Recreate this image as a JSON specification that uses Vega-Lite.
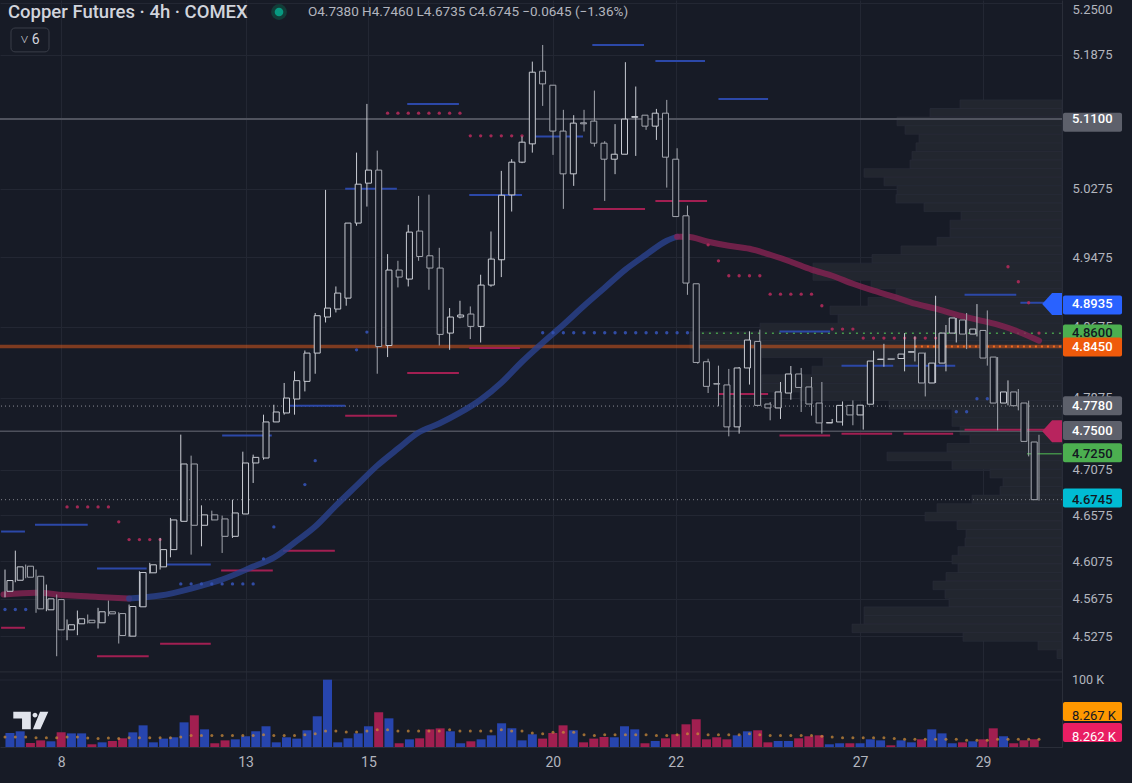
{
  "$schema": "https://vega.github.io/schema/vega-lite/v6.json",
  "width": 1062,
  "height": 747,
  "padding": 0,
  "autosize": {"type": "pad"},
  "background": "#171b26",
  "config": {"view": {"stroke": null}, "font": "Roboto"},
  "datasets": {
    "bars": [
      {"i":0,"o":4.5754,"h":4.5987,"l":4.5689,"c":4.5869,"v":15.0,"m":10.7},
      {"i":1,"o":4.5872,"h":4.6191,"l":4.5851,"c":4.6016,"v":16.8,"m":10.7},
      {"i":2,"o":4.6023,"h":4.6041,"l":4.5894,"c":4.5905,"v":4.3,"m":10.7},
      {"i":3,"o":4.5915,"h":4.5987,"l":4.5524,"c":4.5566,"v":7.1,"m":10.0},
      {"i":4,"o":4.5556,"h":4.5826,"l":4.5541,"c":4.5673,"v":6.1,"m":10.0},
      {"i":5,"o":4.5665,"h":4.5719,"l":4.5064,"c":4.5343,"v":15.7,"m":10.0},
      {"i":6,"o":4.5343,"h":4.5453,"l":4.5233,"c":4.5397,"v":14.6,"m":10.7},
      {"i":7,"o":4.5407,"h":4.5548,"l":4.5286,"c":4.5460,"v":14.6,"m":10.7},
      {"i":8,"o":4.5445,"h":4.5506,"l":4.5410,"c":4.5418,"v":2.9,"m":9.7},
      {"i":9,"o":4.5418,"h":4.5577,"l":4.5357,"c":4.5535,"v":5.0,"m":9.0},
      {"i":10,"o":4.5535,"h":4.5654,"l":4.5488,"c":4.5513,"v":6.4,"m":9.7},
      {"i":11,"o":4.5516,"h":4.5530,"l":4.5198,"c":4.5283,"v":9.3,"m":9.0},
      {"i":12,"o":4.5276,"h":4.5612,"l":4.5270,"c":4.5591,"v":15.7,"m":10.0},
      {"i":13,"o":4.5588,"h":4.5969,"l":4.5588,"c":4.5955,"v":23.2,"m":10.0},
      {"i":14,"o":4.5952,"h":4.6059,"l":4.5944,"c":4.6038,"v":5.0,"m":10.0},
      {"i":15,"o":4.6016,"h":4.6329,"l":4.5987,"c":4.6202,"v":9.0,"m":10.0},
      {"i":16,"o":4.6202,"h":4.6546,"l":4.6119,"c":4.6524,"v":10.4,"m":10.0},
      {"i":17,"o":4.6509,"h":4.7462,"l":4.6509,"c":4.7137,"v":26.4,"m":10.7},
      {"i":18,"o":4.7137,"h":4.7229,"l":4.6148,"c":4.6466,"v":33.9,"m":12.2},
      {"i":19,"o":4.6466,"h":4.6683,"l":4.6238,"c":4.6579,"v":18.9,"m":12.2},
      {"i":20,"o":4.6579,"h":4.6625,"l":4.6519,"c":4.6524,"v":4.0,"m":12.2},
      {"i":21,"o":4.6535,"h":4.6571,"l":4.6166,"c":4.6346,"v":7.1,"m":12.2},
      {"i":22,"o":4.6346,"h":4.6745,"l":4.6329,"c":4.6600,"v":8.2,"m":12.2},
      {"i":23,"o":4.6589,"h":4.7273,"l":4.6589,"c":4.7148,"v":11.5,"m":12.2},
      {"i":24,"o":4.7148,"h":4.7240,"l":4.6928,"c":4.7210,"v":16.8,"m":12.2},
      {"i":25,"o":4.7203,"h":4.7684,"l":4.7185,"c":4.7603,"v":22.2,"m":13.2},
      {"i":26,"o":4.7603,"h":4.7795,"l":4.7603,"c":4.7714,"v":5.0,"m":12.2},
      {"i":27,"o":4.7703,"h":4.8039,"l":4.7684,"c":4.7870,"v":10.4,"m":12.2},
      {"i":28,"o":4.7859,"h":4.8170,"l":4.7684,"c":4.8065,"v":9.0,"m":12.2},
      {"i":29,"o":4.8057,"h":4.8405,"l":4.7944,"c":4.8376,"v":17.9,"m":13.2},
      {"i":30,"o":4.8376,"h":4.8832,"l":4.8143,"c":4.8801,"v":32.9,"m":14.3},
      {"i":31,"o":4.8786,"h":5.0259,"l":4.8724,"c":4.8888,"v":72.1,"m":17.2},
      {"i":32,"o":4.8877,"h":4.9136,"l":4.8838,"c":4.9060,"v":5.0,"m":17.2},
      {"i":33,"o":4.9002,"h":4.9870,"l":4.8915,"c":4.9870,"v":9.3,"m":16.1},
      {"i":34,"o":4.9870,"h":5.0699,"l":4.9839,"c":5.0326,"v":14.6,"m":16.1},
      {"i":35,"o":5.0338,"h":5.1280,"l":5.0063,"c":5.0492,"v":22.2,"m":17.2},
      {"i":36,"o":5.0492,"h":5.0723,"l":4.8143,"c":4.8451,"v":37.2,"m":18.6},
      {"i":37,"o":4.8462,"h":4.9509,"l":4.8331,"c":4.9325,"v":30.7,"m":18.6},
      {"i":38,"o":4.9325,"h":4.9432,"l":4.9125,"c":4.9244,"v":4.0,"m":17.2},
      {"i":39,"o":4.9221,"h":4.9850,"l":4.9136,"c":4.9765,"v":8.2,"m":17.2},
      {"i":40,"o":4.9777,"h":5.0188,"l":4.9432,"c":4.9482,"v":9.3,"m":17.2},
      {"i":41,"o":4.9490,"h":5.0203,"l":4.9098,"c":4.9348,"v":18.9,"m":17.2},
      {"i":42,"o":4.9348,"h":4.9582,"l":4.8462,"c":4.8588,"v":20.0,"m":17.2},
      {"i":43,"o":4.8603,"h":4.8888,"l":4.8413,"c":4.8786,"v":16.8,"m":18.6},
      {"i":44,"o":4.8786,"h":4.8972,"l":4.8770,"c":4.8809,"v":4.0,"m":17.2},
      {"i":45,"o":4.8820,"h":4.8907,"l":4.8535,"c":4.8679,"v":6.1,"m":17.2},
      {"i":46,"o":4.8679,"h":4.9271,"l":4.8496,"c":4.9152,"v":8.2,"m":17.2},
      {"i":47,"o":4.9152,"h":4.9772,"l":4.9133,"c":4.9452,"v":12.5,"m":17.2},
      {"i":48,"o":4.9444,"h":5.0483,"l":4.9244,"c":5.0196,"v":25.4,"m":18.6},
      {"i":49,"o":5.0200,"h":5.0621,"l":5.0005,"c":5.0586,"v":20.0,"m":17.2},
      {"i":50,"o":5.0586,"h":5.0890,"l":5.0574,"c":5.0823,"v":7.1,"m":17.2},
      {"i":51,"o":5.0803,"h":5.1790,"l":5.0699,"c":5.1662,"v":13.6,"m":15.0},
      {"i":52,"o":5.1674,"h":5.1992,"l":5.1256,"c":5.1521,"v":9.0,"m":14.3},
      {"i":53,"o":5.1505,"h":5.1505,"l":5.0672,"c":5.0955,"v":15.0,"m":15.7},
      {"i":54,"o":5.0955,"h":5.1209,"l":5.0036,"c":5.0448,"v":23.2,"m":15.7},
      {"i":55,"o":5.0448,"h":5.1145,"l":5.0306,"c":5.1050,"v":17.9,"m":15.7},
      {"i":56,"o":5.1054,"h":5.1209,"l":5.0950,"c":5.1042,"v":5.0,"m":13.2},
      {"i":57,"o":5.1074,"h":5.1440,"l":5.0770,"c":5.0811,"v":9.0,"m":12.2},
      {"i":58,"o":5.0811,"h":5.0835,"l":5.0129,"c":5.0621,"v":10.7,"m":13.2},
      {"i":59,"o":5.0621,"h":5.1038,"l":5.0444,"c":5.0680,"v":10.4,"m":13.2},
      {"i":60,"o":5.0680,"h":5.1783,"l":5.0680,"c":5.1098,"v":22.2,"m":13.2},
      {"i":61,"o":5.1119,"h":5.1489,"l":5.0660,"c":5.1129,"v":18.9,"m":13.2},
      {"i":62,"o":5.1145,"h":5.1145,"l":5.0970,"c":5.1014,"v":4.0,"m":13.2},
      {"i":63,"o":5.1014,"h":5.1220,"l":5.0850,"c":5.1169,"v":6.4,"m":12.2},
      {"i":64,"o":5.1169,"h":5.1328,"l":5.0286,"c":5.0645,"v":9.3,"m":12.2},
      {"i":65,"o":5.0621,"h":5.0751,"l":4.9946,"c":4.9946,"v":13.6,"m":13.2},
      {"i":66,"o":4.9955,"h":5.0075,"l":4.9040,"c":4.9175,"v":24.3,"m":14.3},
      {"i":67,"o":4.9167,"h":4.9167,"l":4.8256,"c":4.8270,"v":29.7,"m":14.3},
      {"i":68,"o":4.8278,"h":4.8312,"l":4.7926,"c":4.8001,"v":8.2,"m":13.2},
      {"i":69,"o":4.8032,"h":4.8234,"l":4.7777,"c":4.8026,"v":10.4,"m":13.2},
      {"i":70,"o":4.8017,"h":4.8197,"l":4.7443,"c":4.7548,"v":8.2,"m":13.2},
      {"i":71,"o":4.7548,"h":4.8219,"l":4.7473,"c":4.8208,"v":12.5,"m":13.2},
      {"i":72,"o":4.8208,"h":4.8623,"l":4.8021,"c":4.8524,"v":16.8,"m":14.3},
      {"i":73,"o":4.8508,"h":4.8642,"l":4.7788,"c":4.7788,"v":17.9,"m":13.2},
      {"i":74,"o":4.7803,"h":4.7825,"l":4.7621,"c":4.7759,"v":5.0,"m":12.2},
      {"i":75,"o":4.7759,"h":4.8050,"l":4.7636,"c":4.7938,"v":6.4,"m":12.2},
      {"i":76,"o":4.7926,"h":4.8230,"l":4.7851,"c":4.8140,"v":6.4,"m":12.2},
      {"i":77,"o":4.8140,"h":4.8208,"l":4.7714,"c":4.7989,"v":9.3,"m":12.2},
      {"i":78,"o":4.7994,"h":4.8106,"l":4.7673,"c":4.7803,"v":11.5,"m":12.2},
      {"i":79,"o":4.7814,"h":4.8050,"l":4.7473,"c":4.7592,"v":12.5,"m":11.5},
      {"i":80,"o":4.7592,"h":4.7636,"l":4.7590,"c":4.7595,"v":2.9,"m":10.7},
      {"i":81,"o":4.7603,"h":4.7832,"l":4.7562,"c":4.7788,"v":4.0,"m":10.0},
      {"i":82,"o":4.7788,"h":4.7843,"l":4.7566,"c":4.7681,"v":4.0,"m":10.0},
      {"i":83,"o":4.7681,"h":4.7790,"l":4.7518,"c":4.7790,"v":4.0,"m":10.0},
      {"i":84,"o":4.7801,"h":4.8404,"l":4.7801,"c":4.8286,"v":8.2,"m":10.0},
      {"i":85,"o":4.8303,"h":4.8481,"l":4.8222,"c":4.8308,"v":7.1,"m":10.0},
      {"i":86,"o":4.8311,"h":4.8317,"l":4.8301,"c":4.8305,"v":1.8,"m":9.0},
      {"i":87,"o":4.8315,"h":4.8603,"l":4.8170,"c":4.8365,"v":7.1,"m":8.27},
      {"i":88,"o":4.8387,"h":4.8565,"l":4.8281,"c":4.8391,"v":5.0,"m":8.27},
      {"i":89,"o":4.8376,"h":4.8383,"l":4.7888,"c":4.8039,"v":8.2,"m":8.27},
      {"i":90,"o":4.8039,"h":4.9029,"l":4.8039,"c":4.8263,"v":18.9,"m":8.27},
      {"i":91,"o":4.8263,"h":4.8695,"l":4.8170,"c":4.8603,"v":14.6,"m":8.27},
      {"i":92,"o":4.8603,"h":4.8775,"l":4.8496,"c":4.8775,"v":4.0,"m":8.27},
      {"i":93,"o":4.8752,"h":4.8832,"l":4.8421,"c":4.8592,"v":5.0,"m":7.2},
      {"i":94,"o":4.8592,"h":4.8934,"l":4.8565,"c":4.8649,"v":6.1,"m":7.2},
      {"i":95,"o":4.8633,"h":4.8861,"l":4.8234,"c":4.8320,"v":8.2,"m":7.2},
      {"i":96,"o":4.8331,"h":4.8331,"l":4.7510,"c":4.7814,"v":20.0,"m":8.27},
      {"i":97,"o":4.7814,"h":4.8068,"l":4.7788,"c":4.7938,"v":11.5,"m":8.27},
      {"i":98,"o":4.7938,"h":4.7971,"l":4.7732,"c":4.7784,"v":4.0,"m":8.27},
      {"i":99,"o":4.7814,"h":4.7840,"l":4.7221,"c":4.7387,"v":7.1,"m":8.27},
      {"i":100,"o":4.7380,"h":4.7460,"l":4.6735,"c":4.6745,"v":8.262,"m":8.267}
    ],
    "ma": [
      {"i":-0.15,"p":4.5719,"seg":1,"t":"down"},{"i":3,"p":4.5737,"seg":1,"t":"down"},{"i":6,"p":4.5711,"seg":1,"t":"down"},{"i":9,"p":4.5694,"seg":1,"t":"down"},{"i":12,"p":4.5676,"seg":1,"t":"down"},
      {"i":12,"p":4.5676,"seg":2,"t":"up"},{"i":15,"p":4.5708,"seg":2,"t":"up"},{"i":18,"p":4.5783,"seg":2,"t":"up"},{"i":21,"p":4.5880,"seg":2,"t":"up"},{"i":24,"p":4.6019,"seg":2,"t":"up"},{"i":26,"p":4.6116,"seg":2,"t":"up"},{"i":28,"p":4.6278,"seg":2,"t":"up"},{"i":30,"p":4.6452,"seg":2,"t":"up"},{"i":32,"p":4.6680,"seg":2,"t":"up"},{"i":34,"p":4.6899,"seg":2,"t":"up"},{"i":36,"p":4.7119,"seg":2,"t":"up"},{"i":38,"p":4.7306,"seg":2,"t":"up"},{"i":40,"p":4.7485,"seg":2,"t":"up"},{"i":42,"p":4.7585,"seg":2,"t":"up"},{"i":44,"p":4.7706,"seg":2,"t":"up"},{"i":46,"p":4.7851,"seg":2,"t":"up"},{"i":48,"p":4.8042,"seg":2,"t":"up"},{"i":50,"p":4.8278,"seg":2,"t":"up"},{"i":52,"p":4.8493,"seg":2,"t":"up"},{"i":54,"p":4.8698,"seg":2,"t":"up"},{"i":56,"p":4.8915,"seg":2,"t":"up"},{"i":58,"p":4.9122,"seg":2,"t":"up"},{"i":60,"p":4.9330,"seg":2,"t":"up"},{"i":62,"p":4.9502,"seg":2,"t":"up"},{"i":64,"p":4.9665,"seg":2,"t":"up"},{"i":65,"p":4.9711,"seg":2,"t":"up"},
      {"i":65,"p":4.9711,"seg":3,"t":"down"},{"i":66,"p":4.9711,"seg":3,"t":"down"},{"i":68,"p":4.9653,"seg":3,"t":"down"},{"i":70,"p":4.9606,"seg":3,"t":"down"},{"i":72,"p":4.9571,"seg":3,"t":"down"},{"i":74,"p":4.9502,"seg":3,"t":"down"},{"i":76,"p":4.9421,"seg":3,"t":"down"},{"i":78,"p":4.9330,"seg":3,"t":"down"},{"i":80,"p":4.9259,"seg":3,"t":"down"},{"i":82,"p":4.9167,"seg":3,"t":"down"},{"i":84,"p":4.9087,"seg":3,"t":"down"},{"i":86,"p":4.9017,"seg":3,"t":"down"},{"i":88,"p":4.8938,"seg":3,"t":"down"},{"i":90,"p":4.8881,"seg":3,"t":"down"},{"i":92,"p":4.8813,"seg":3,"t":"down"},{"i":94,"p":4.8756,"seg":3,"t":"down"},{"i":96,"p":4.8698,"seg":3,"t":"down"},{"i":98,"p":4.8619,"seg":3,"t":"down"},{"i":100,"p":4.8517,"seg":3,"t":"down"}
    ],
    "levels": [
      {"s":-0.38,"e":1.93,"p":4.6398,"k":"up"},{"s":2.9,"e":8.0,"p":4.6473,"k":"up"},{"s":8.9,"e":13.7,"p":4.5998,"k":"up"},{"s":15.0,"e":19.9,"p":4.6041,"k":"up"},{"s":21.0,"e":25.8,"p":4.7451,"k":"up"},{"s":26.9,"e":32.9,"p":4.7784,"k":"up"},{"s":32.9,"e":37.9,"p":5.0271,"k":"up"},{"s":38.9,"e":43.9,"p":5.1280,"k":"up"},{"s":44.9,"e":50.0,"p":5.0200,"k":"up"},{"s":50.8,"e":55.9,"p":5.0890,"k":"up"},{"s":56.8,"e":61.8,"p":5.1992,"k":"up"},{"s":62.9,"e":67.7,"p":5.1798,"k":"up"},{"s":69.0,"e":73.8,"p":5.1340,"k":"up"},{"s":74.9,"e":79.8,"p":4.8621,"k":"up"},{"s":80.9,"e":85.9,"p":4.8234,"k":"up"},{"s":87.0,"e":91.9,"p":4.8234,"k":"up"},{"s":92.8,"e":97.8,"p":4.9040,"k":"up"},{"s":98.2,"e":100.9,"p":4.8949,"k":"up"},
      {"s":-0.38,"e":1.93,"p":4.5365,"k":"dn"},{"s":8.9,"e":13.9,"p":4.5064,"k":"dn"},{"s":15.0,"e":19.9,"p":4.5195,"k":"dn"},{"s":20.9,"e":25.9,"p":4.5977,"k":"dn"},{"s":26.9,"e":31.9,"p":4.6191,"k":"dn"},{"s":32.9,"e":37.9,"p":4.7673,"k":"dn"},{"s":38.9,"e":43.9,"p":4.8151,"k":"dn"},{"s":44.9,"e":49.8,"p":4.8433,"k":"dn"},{"s":56.9,"e":61.9,"p":5.0036,"k":"dn"},{"s":62.9,"e":67.9,"p":5.0129,"k":"dn"},{"s":69.0,"e":73.8,"p":4.7915,"k":"dn"},{"s":74.9,"e":79.8,"p":4.7451,"k":"dn"},{"s":80.9,"e":85.8,"p":4.7473,"k":"dn"},{"s":86.9,"e":91.7,"p":4.7473,"k":"dn"},{"s":92.8,"e":101.1,"p":4.7517,"k":"dn"}
    ],
    "dots": [
      {"i":0,"p":4.5559,"k":"up"},{"i":1,"p":4.5559,"k":"up"},{"i":2,"p":4.5559,"k":"up"},
      {"i":6,"p":4.6666,"k":"dn"},{"i":7,"p":4.6666,"k":"dn"},{"i":8,"p":4.6666,"k":"dn"},{"i":9,"p":4.6666,"k":"dn"},{"i":10,"p":4.6666,"k":"dn"},
      {"i":11,"p":4.6503,"k":"dn"},
      {"i":12,"p":4.6311,"k":"dn"},{"i":13,"p":4.6311,"k":"dn"},{"i":14,"p":4.6311,"k":"dn"},{"i":15,"p":4.6311,"k":"dn"},
      {"i":17,"p":4.5833,"k":"up"},{"i":18,"p":4.5833,"k":"up"},{"i":19,"p":4.5833,"k":"up"},{"i":20,"p":4.5833,"k":"up"},{"i":21,"p":4.5833,"k":"up"},{"i":22,"p":4.5833,"k":"up"},{"i":23,"p":4.5833,"k":"up"},{"i":24,"p":4.5833,"k":"up"},
      {"i":25,"p":4.6102,"k":"up"},{"i":26,"p":4.6448,"k":"up"},{"i":29,"p":4.6910,"k":"up"},{"i":30,"p":4.7174,"k":"up"},{"i":34,"p":4.8413,"k":"up"},{"i":35,"p":4.8614,"k":"up"},
      {"i":37,"p":5.1169,"k":"dn"},{"i":38,"p":5.1169,"k":"dn"},{"i":39,"p":5.1169,"k":"dn"},{"i":40,"p":5.1169,"k":"dn"},{"i":41,"p":5.1169,"k":"dn"},{"i":42,"p":5.1169,"k":"dn"},{"i":43,"p":5.1169,"k":"dn"},{"i":44,"p":5.1169,"k":"dn"},
      {"i":45,"p":5.0899,"k":"dn"},{"i":46,"p":5.0899,"k":"dn"},{"i":47,"p":5.0899,"k":"dn"},{"i":48,"p":5.0899,"k":"dn"},{"i":49,"p":5.0899,"k":"dn"},{"i":50,"p":5.0899,"k":"dn"},
      {"i":52,"p":4.8607,"k":"up"},{"i":53,"p":4.8607,"k":"up"},{"i":54,"p":4.8607,"k":"up"},{"i":55,"p":4.8607,"k":"up"},{"i":56,"p":4.8607,"k":"up"},{"i":57,"p":4.8607,"k":"up"},{"i":58,"p":4.8607,"k":"up"},{"i":59,"p":4.8607,"k":"up"},{"i":60,"p":4.8607,"k":"up"},{"i":61,"p":4.8607,"k":"up"},{"i":62,"p":4.8607,"k":"up"},{"i":63,"p":4.8607,"k":"up"},{"i":64,"p":4.8607,"k":"up"},{"i":65,"p":4.8607,"k":"up"},{"i":66,"p":4.8607,"k":"up"},
      {"i":68,"p":4.9617,"k":"dn"},{"i":69,"p":4.9432,"k":"dn"},
      {"i":70,"p":4.9259,"k":"dn"},{"i":71,"p":4.9259,"k":"dn"},{"i":72,"p":4.9259,"k":"dn"},{"i":73,"p":4.9259,"k":"dn"},
      {"i":74,"p":4.9048,"k":"dn"},{"i":75,"p":4.9048,"k":"dn"},{"i":76,"p":4.9048,"k":"dn"},{"i":77,"p":4.9048,"k":"dn"},{"i":78,"p":4.9048,"k":"dn"},
      {"i":79,"p":4.8915,"k":"dn"},
      {"i":80,"p":4.8649,"k":"dn"},{"i":81,"p":4.8649,"k":"dn"},{"i":82,"p":4.8649,"k":"dn"},
      {"i":83,"p":4.8546,"k":"dn"},{"i":84,"p":4.8546,"k":"dn"},{"i":85,"p":4.8546,"k":"dn"},{"i":86,"p":4.8546,"k":"dn"},{"i":87,"p":4.8546,"k":"dn"},{"i":88,"p":4.8546,"k":"dn"},{"i":89,"p":4.8546,"k":"dn"},{"i":90,"p":4.8546,"k":"dn"},
      {"i":92,"p":4.7717,"k":"up"},{"i":93,"p":4.7717,"k":"up"},{"i":94,"p":4.7862,"k":"up"},{"i":95,"p":4.7862,"k":"up"},
      {"i":97,"p":4.9363,"k":"dn"},{"i":98,"p":4.9190,"k":"dn"},{"i":99,"p":4.8949,"k":"dn"},{"i":100,"p":4.8603,"k":"dn"}
    ],
    "profile": [
      {"hi":5.1328,"lo":5.1225,"vol":10.2},{"hi":5.1225,"lo":5.1122,"vol":13.2},{"hi":5.1122,"lo":5.1019,"vol":16.5},{"hi":5.1019,"lo":5.0917,"vol":15.7},{"hi":5.0917,"lo":5.0815,"vol":14.3},{"hi":5.0815,"lo":5.0713,"vol":14.6},{"hi":5.0713,"lo":5.0611,"vol":15.0},{"hi":5.0611,"lo":5.0509,"vol":15.2},{"hi":5.0509,"lo":5.0408,"vol":19.8},{"hi":5.0408,"lo":5.0307,"vol":17.8},
      {"hi":5.0307,"lo":5.0206,"vol":16.5},{"hi":5.0206,"lo":5.0105,"vol":16.6},{"hi":5.0105,"lo":5.0004,"vol":13.8},{"hi":5.0004,"lo":4.9904,"vol":10.1},{"hi":4.9904,"lo":4.9804,"vol":11.2},{"hi":4.9804,"lo":4.9704,"vol":11.2},{"hi":4.9704,"lo":4.9604,"vol":12.5},{"hi":4.9604,"lo":4.9504,"vol":16.1},{"hi":4.9504,"lo":4.9405,"vol":19.0},{"hi":4.9405,"lo":4.9306,"vol":24.9},
      {"hi":4.9306,"lo":4.9207,"vol":24.9},{"hi":4.9207,"lo":4.9108,"vol":19.1},{"hi":4.9108,"lo":4.9009,"vol":16.6},{"hi":4.9009,"lo":4.8911,"vol":19.4},{"hi":4.8911,"lo":4.8813,"vol":23.2},{"hi":4.8813,"lo":4.8715,"vol":22.4},{"hi":4.8715,"lo":4.8617,"vol":30.2},{"hi":4.8617,"lo":4.8519,"vol":37.2},{"hi":4.8519,"lo":4.8422,"vol":37.2},{"hi":4.8422,"lo":4.8325,"vol":30.0},
      {"hi":4.8325,"lo":4.8228,"vol":23.9},{"hi":4.8228,"lo":4.8131,"vol":25.0},{"hi":4.8131,"lo":4.8034,"vol":30.0},{"hi":4.8034,"lo":4.7938,"vol":30.0},{"hi":4.7938,"lo":4.7842,"vol":26.2},{"hi":4.7842,"lo":4.7746,"vol":17.3},{"hi":4.7746,"lo":4.7650,"vol":11.0},{"hi":4.7650,"lo":4.7554,"vol":11.0},{"hi":4.7554,"lo":4.7458,"vol":10.2},{"hi":4.7458,"lo":4.7363,"vol":9.2},
      {"hi":4.7363,"lo":4.7268,"vol":11.5},{"hi":4.7268,"lo":4.7173,"vol":17.5},{"hi":4.7173,"lo":4.7078,"vol":11.0},{"hi":4.7078,"lo":4.6983,"vol":7.2},{"hi":4.6983,"lo":4.6889,"vol":5.9},{"hi":4.6889,"lo":4.6795,"vol":6.2},{"hi":4.6795,"lo":4.6701,"vol":9.0},{"hi":4.6701,"lo":4.6607,"vol":12.5},{"hi":4.6607,"lo":4.6513,"vol":13.7},{"hi":4.6513,"lo":4.6420,"vol":10.5},
      {"hi":4.6420,"lo":4.6327,"vol":9.6},{"hi":4.6327,"lo":4.6234,"vol":9.7},{"hi":4.6234,"lo":4.6141,"vol":10.4},{"hi":4.6141,"lo":4.6048,"vol":11.0},{"hi":4.6048,"lo":4.5955,"vol":10.4},{"hi":4.5955,"lo":4.5863,"vol":11.6},{"hi":4.5863,"lo":4.5771,"vol":12.9},{"hi":4.5771,"lo":4.5679,"vol":11.7},{"hi":4.5679,"lo":4.5587,"vol":11.3},{"hi":4.5587,"lo":4.5495,"vol":19.8},
      {"hi":4.5495,"lo":4.5404,"vol":19.8},{"hi":4.5404,"lo":4.5313,"vol":21.0},{"hi":4.5313,"lo":4.5222,"vol":9.9},{"hi":4.5222,"lo":4.5131,"vol":2.4},{"hi":4.5131,"lo":4.5040,"vol":0.5}
    ],
    "tags": [
      {"p":5.11,"kind":"Prev high"},
      {"p":4.8935,"kind":"Sell"},
      {"p":4.86,"kind":"VAH"},
      {"p":4.845,"kind":"POC"},
      {"p":4.778,"kind":"Prev close"},
      {"p":4.75,"kind":"Buy"},
      {"p":4.725,"kind":"VAL"},
      {"p":4.6745,"kind":"Last"}
    ],
    "vtags": [
      {"v":8.267,"label":"8.267 K","kind":"Vol MA"},
      {"v":8.262,"label":"8.262 K","kind":"Volume"}
    ],
    "hdr": [
      {"title":"Copper Futures · 4h · COMEX","ohlc":"O4.7380 H4.7460 L4.6735 C4.6745 −0.0645 (−1.36%)","iv":"˅ 6","vmax":"100 K"}
    ]
  },
  "resolve": {"scale": {"x": "independent", "y": "independent", "color": "independent", "fill": "independent", "stroke": "independent"}},
  "layer": [
    {
      "data": {"name": "hdr"},
      "mark": {"type": "rect", "opacity": 0},
      "encoding": {
        "x": {"datum": -0.4836, "type": "quantitative", "scale": {"domain": [-0.4836, 102.2244]}, "axis": null},
        "x2": {"datum": 108.99},
        "y": {"datum": -38.5, "type": "quantitative", "scale": {"domain": [0, 800]}, "axis": null},
        "y2": {"datum": 800}
      }
    },
    {
      "data": {"name": "profile"},
      "mark": {"type": "rect", "fill": "#22262f", "stroke": "#2a2e3a", "strokeWidth": 0.6},
      "encoding": {
        "x": {"field": "vol", "type": "quantitative", "scale": {"domain": [0, 106.2], "reverse": true}, "axis": null},
        "x2": {"datum": 0},
        "y": {"field": "hi", "type": "quantitative", "scale": {"type": "log", "domain": [4.4117, 5.2542]}, "axis": null},
        "y2": {"field": "lo"}
      }
    },
    {
      "data": {"name": "hdr"},
      "mark": {"type": "rule", "color": "#232733", "strokeWidth": 1, "clip": true},
      "encoding": {
        "y": {"datum": 71.75, "type": "quantitative", "scale": {"domain": [0, 800]}, "axis": null}
      }
    },
    {
      "data": {"name": "bars"},
      "mark": {"type": "bar", "size": 9},
      "encoding": {
        "x": {"field": "i", "type": "quantitative", "scale": {"domain": [-0.4836, 102.2244]},
          "axis": {"values": [5, 23, 35, 53, 65, 83, 95], "title": null,
            "labelExpr": "datum.value == 5 ? '8' : datum.value == 23 ? '13' : datum.value == 35 ? '15' : datum.value == 53 ? '20' : datum.value == 65 ? '22' : datum.value == 83 ? '27' : '29'",
            "grid": true, "gridColor": "#232733", "ticks": false, "tickSize": 0, "labelPadding": 8,
            "labelColor": "#b2b5be", "labelFontSize": 14, "domain": true, "domainColor": "#2a2e39",
            "labelFlush": false, "labelOverlap": false}},
        "y": {"field": "v", "type": "quantitative", "scale": {"domain": [0, 800]}, "axis": null},
        "color": {"condition": {"test": "datum.c >= datum.o", "value": "#2745ae"}, "value": "#a11f50"}
      }
    },
    {
      "data": {"name": "bars"},
      "mark": {"type": "point", "filled": true, "size": 9, "color": "#c88a3a", "opacity": 0.75},
      "encoding": {
        "x": {"field": "i", "type": "quantitative", "scale": {"domain": [-0.4836, 102.2244]}, "axis": null},
        "y": {"field": "m", "type": "quantitative", "scale": {"domain": [0, 800]}, "axis": null}
      }
    },
    {
      "data": {"name": "hdr"},
      "mark": {"type": "point", "filled": true, "opacity": 1, "color": "#e0e3eb", "size": 1225,
        "shape": "M-1,-0.5L0,-0.5L0,0.5L-0.5,0.5L-0.5,-0.12L-1,-0.12Z M0.1,-0.31A0.14,0.14 0 1,0 0.38,-0.31A0.14,0.14 0 1,0 0.1,-0.31Z M0.53,-0.5L1,-0.5L0.55,0.5L0.12,0.5Z"},
      "encoding": {
        "x": {"datum": 2.495, "type": "quantitative", "scale": {"domain": [-0.4836, 102.2244]}, "axis": null},
        "y": {"datum": 28.38, "type": "quantitative", "scale": {"domain": [0, 800]}, "axis": null}
      }
    },
    {
      "data": {"name": "hdr"},
      "mark": {"type": "text", "align": "left", "baseline": "middle", "fontSize": 12.5, "color": "#b2b5be"},
      "encoding": {
        "x": {"datum": 103.19, "type": "quantitative", "scale": {"domain": [-0.4836, 102.2244]}, "axis": null},
        "y": {"datum": 71.75, "type": "quantitative", "scale": {"domain": [0, 800]}, "axis": null},
        "text": {"field": "vmax"}
      }
    },
    {
      "data": {"name": "vtags"},
      "transform": [{"filter": "datum.kind == 'Vol MA'"}],
      "mark": {"type": "bar", "size": 19, "color": "#ff9800", "yOffset": -23, "cornerRadius": 2},
      "encoding": {
        "x": {"datum": 102.32, "type": "quantitative", "scale": {"domain": [-0.4836, 102.2244]}, "axis": null},
        "x2": {"datum": 108.03},
        "y": {"field": "v", "type": "quantitative", "scale": {"domain": [0, 800]}, "axis": null}
      }
    },
    {
      "data": {"name": "vtags"},
      "transform": [{"filter": "datum.kind == 'Vol MA'"}],
      "mark": {"type": "text", "align": "left", "baseline": "middle", "fontSize": 13, "color": "#131722", "yOffset": -23},
      "encoding": {
        "x": {"datum": 103.19, "type": "quantitative", "scale": {"domain": [-0.4836, 102.2244]}, "axis": null},
        "y": {"field": "v", "type": "quantitative", "scale": {"domain": [0, 800]}, "axis": null},
        "text": {"field": "label"}
      }
    },
    {
      "data": {"name": "vtags"},
      "transform": [{"filter": "datum.kind == 'Volume'"}],
      "mark": {"type": "bar", "size": 19, "color": "#e91e63", "yOffset": -2, "cornerRadius": 2},
      "encoding": {
        "x": {"datum": 102.32, "type": "quantitative", "scale": {"domain": [-0.4836, 102.2244]}, "axis": null},
        "x2": {"datum": 108.03},
        "y": {"field": "v", "type": "quantitative", "scale": {"domain": [0, 800]}, "axis": null}
      }
    },
    {
      "data": {"name": "vtags"},
      "transform": [{"filter": "datum.kind == 'Volume'"}],
      "mark": {"type": "text", "align": "left", "baseline": "middle", "fontSize": 13, "color": "#ffffff", "yOffset": -2},
      "encoding": {
        "x": {"datum": 103.19, "type": "quantitative", "scale": {"domain": [-0.4836, 102.2244]}, "axis": null},
        "y": {"field": "v", "type": "quantitative", "scale": {"domain": [0, 800]}, "axis": null},
        "text": {"field": "label"}
      }
    },
    {
      "data": {"name": "hdr"},
      "mark": {"type": "rule", "color": "#2a2e39", "strokeWidth": 1, "clip": true},
      "encoding": {"y": {"datum": 4.4899, "type": "quantitative", "scale": {"type": "log", "domain": [4.4117, 5.2542]}, "axis": null}}
    },
    {
      "data": {"name": "hdr"},
      "mark": {"type": "rule", "color": "#50535e", "strokeWidth": 2, "clip": true},
      "encoding": {"y": {"datum": 5.11, "type": "quantitative", "scale": {"type": "log", "domain": [4.4117, 5.2542]}, "axis": null}}
    },
    {
      "data": {"name": "hdr"},
      "mark": {"type": "rule", "color": "#e65c19", "opacity": 0.5, "strokeWidth": 3.5, "clip": true},
      "encoding": {"y": {"datum": 4.845, "type": "quantitative", "scale": {"type": "log", "domain": [4.4117, 5.2542]}, "axis": null}}
    },
    {
      "data": {"name": "hdr"},
      "mark": {"type": "rule", "color": "#4e515c", "strokeWidth": 1.5, "clip": true},
      "encoding": {"y": {"datum": 4.75, "type": "quantitative", "scale": {"type": "log", "domain": [4.4117, 5.2542]}, "axis": null}}
    },
    {
      "data": {"name": "hdr"},
      "mark": {"type": "rule", "color": "#8a8d96", "strokeWidth": 1, "strokeDash": [1, 3], "clip": true},
      "encoding": {"y": {"datum": 4.778, "type": "quantitative", "scale": {"type": "log", "domain": [4.4117, 5.2542]}, "axis": null}}
    },
    {
      "data": {"name": "hdr"},
      "mark": {"type": "rule", "color": "#80838c", "strokeWidth": 1, "strokeDash": [1, 3], "clip": true},
      "encoding": {"y": {"datum": 4.6745, "type": "quantitative", "scale": {"type": "log", "domain": [4.4117, 5.2542]}, "axis": null}}
    },
    {
      "data": {"name": "hdr"},
      "mark": {"type": "rule", "color": "#f26b21", "strokeWidth": 2, "strokeDash": [2, 4]},
      "encoding": {
        "x": {"datum": 88, "type": "quantitative", "scale": {"domain": [-0.4836, 102.2244]}, "axis": null},
        "x2": {"datum": 102.2},
        "y": {"datum": 4.845, "type": "quantitative", "scale": {"type": "log", "domain": [4.4117, 5.2542]}, "axis": null}
      }
    },
    {
      "data": {"name": "hdr"},
      "mark": {"type": "rule", "color": "#4caf50", "strokeWidth": 1.5, "strokeDash": [2, 5], "opacity": 0.85},
      "encoding": {
        "x": {"datum": 67.4, "type": "quantitative", "scale": {"domain": [-0.4836, 102.2244]}, "axis": null},
        "x2": {"datum": 102.2},
        "y": {"datum": 4.86, "type": "quantitative", "scale": {"type": "log", "domain": [4.4117, 5.2542]}, "axis": null}
      }
    },
    {
      "data": {"name": "hdr"},
      "mark": {"type": "rule", "color": "#4caf50", "strokeWidth": 1.5, "opacity": 0.75},
      "encoding": {
        "x": {"datum": 98.84, "type": "quantitative", "scale": {"domain": [-0.4836, 102.2244]}, "axis": null},
        "x2": {"datum": 102.2},
        "y": {"datum": 4.725, "type": "quantitative", "scale": {"type": "log", "domain": [4.4117, 5.2542]}, "axis": null}
      }
    },
    {
      "data": {"name": "levels"},
      "mark": {"type": "rule", "strokeWidth": 2, "clip": true},
      "encoding": {
        "x": {"field": "s", "type": "quantitative", "scale": {"domain": [-0.4836, 102.2244]}, "axis": null},
        "x2": {"field": "e"},
        "y": {"field": "p", "type": "quantitative", "scale": {"type": "log", "domain": [4.4117, 5.2542]}, "axis": null},
        "color": {"condition": {"test": "datum.k == 'up'", "value": "#2c48a8"}, "value": "#a21f52"}
      }
    },
    {
      "data": {"name": "ma"},
      "mark": {"type": "line", "strokeWidth": 6, "strokeCap": "round", "interpolate": "monotone", "clip": true, "opacity": 0.8},
      "encoding": {
        "x": {"field": "i", "type": "quantitative", "scale": {"domain": [-0.4836, 102.2244]}, "axis": null},
        "y": {"field": "p", "type": "quantitative", "scale": {"type": "log", "domain": [4.4117, 5.2542]}, "axis": null},
        "detail": {"field": "seg", "type": "nominal"},
        "stroke": {"condition": {"test": "datum.t == 'up'", "value": "#2a428f"}, "value": "#862352"}
      }
    },
    {
      "data": {"name": "dots"},
      "mark": {"type": "point", "filled": true, "size": 11, "opacity": 0.9},
      "encoding": {
        "x": {"field": "i", "type": "quantitative", "scale": {"domain": [-0.4836, 102.2244]}, "axis": null},
        "y": {"field": "p", "type": "quantitative", "scale": {"type": "log", "domain": [4.4117, 5.2542]}, "axis": null},
        "color": {"condition": {"test": "datum.k == 'up'", "value": "#3452b4"}, "value": "#b02a5a"}
      }
    },
    {
      "data": {"name": "bars"},
      "mark": {"type": "rule", "strokeWidth": 1},
      "encoding": {
        "x": {"field": "i", "type": "quantitative", "scale": {"domain": [-0.4836, 102.2244]}, "axis": null},
        "y": {"field": "l", "type": "quantitative", "scale": {"type": "log", "domain": [4.4117, 5.2542]},
          "axis": {"orient": "right", "title": null,
            "values": [5.25, 5.1875, 5.0275, 4.9475, 4.8675, 4.7875, 4.7075, 4.6575, 4.6075, 4.5675, 4.5275],
            "format": ".4f", "labelColor": "#b2b5be", "labelFontSize": 13, "labelPadding": 10, "labelAlign": "left",
            "ticks": false, "tickSize": 0, "domain": true, "domainColor": "#2a2e39",
            "grid": true, "gridColor": "#232733", "labelOverlap": false, "labelFlush": false,
            "labelBaseline": {"condition": {"test": "datum.value > 5.2", "value": "top"}, "value": "middle"}}},
        "y2": {"field": "h"},
        "color": {"condition": {"test": "datum.c >= datum.o", "value": "#c9ccd3"}, "value": "#a3a6ae"}
      }
    },
    {
      "data": {"name": "bars"},
      "mark": {"type": "bar", "size": 6, "fill": "#171b26", "strokeWidth": 1},
      "encoding": {
        "x": {"field": "i", "type": "quantitative", "scale": {"domain": [-0.4836, 102.2244]}, "axis": null},
        "y": {"field": "o", "type": "quantitative", "scale": {"type": "log", "domain": [4.4117, 5.2542]}, "axis": null},
        "y2": {"field": "c"},
        "stroke": {"condition": {"test": "datum.c >= datum.o", "value": "#c9ccd3"}, "value": "#a3a6ae"}
      }
    },
    {
      "data": {"name": "hdr"},
      "mark": {"type": "text", "align": "left", "baseline": "middle", "fontSize": 18.5, "fontWeight": 500, "color": "#d1d4dc"},
      "encoding": {
        "x": {"datum": 0.29, "type": "quantitative", "scale": {"domain": [-0.4836, 102.2244]}, "axis": null},
        "y": {"datum": 5.2395, "type": "quantitative", "scale": {"type": "log", "domain": [4.4117, 5.2542]}, "axis": null},
        "text": {"field": "title"}
      }
    },
    {
      "data": {"name": "hdr"},
      "mark": {"type": "point", "filled": true, "size": 250, "color": "#123d38", "opacity": 1},
      "encoding": {
        "x": {"datum": 26.5, "type": "quantitative", "scale": {"domain": [-0.4836, 102.2244]}, "axis": null},
        "y": {"datum": 5.2395, "type": "quantitative", "scale": {"type": "log", "domain": [4.4117, 5.2542]}, "axis": null}
      }
    },
    {
      "data": {"name": "hdr"},
      "mark": {"type": "point", "filled": true, "size": 75, "color": "#089981", "opacity": 1},
      "encoding": {
        "x": {"datum": 26.5, "type": "quantitative", "scale": {"domain": [-0.4836, 102.2244]}, "axis": null},
        "y": {"datum": 5.2395, "type": "quantitative", "scale": {"type": "log", "domain": [4.4117, 5.2542]}, "axis": null}
      }
    },
    {
      "data": {"name": "hdr"},
      "mark": {"type": "text", "align": "left", "baseline": "middle", "fontSize": 13.5, "color": "#b2b5be"},
      "encoding": {
        "x": {"datum": 29.3, "type": "quantitative", "scale": {"domain": [-0.4836, 102.2244]}, "axis": null},
        "y": {"datum": 5.2395, "type": "quantitative", "scale": {"type": "log", "domain": [4.4117, 5.2542]}, "axis": null},
        "text": {"field": "ohlc"}
      }
    },
    {
      "data": {"name": "hdr"},
      "mark": {"type": "rect", "fill": "transparent", "stroke": "#3a3e49", "strokeWidth": 1, "cornerRadius": 4},
      "encoding": {
        "x": {"datum": 0.58, "type": "quantitative", "scale": {"domain": [-0.4836, 102.2244]}, "axis": null},
        "x2": {"datum": 4.256},
        "y": {"datum": 5.2199, "type": "quantitative", "scale": {"type": "log", "domain": [4.4117, 5.2542]}, "axis": null},
        "y2": {"datum": 5.1908}
      }
    },
    {
      "data": {"name": "hdr"},
      "mark": {"type": "text", "align": "center", "baseline": "middle", "fontSize": 14, "color": "#d1d4dc"},
      "encoding": {
        "x": {"datum": 2.418, "type": "quantitative", "scale": {"domain": [-0.4836, 102.2244]}, "axis": null},
        "y": {"datum": 5.2053, "type": "quantitative", "scale": {"type": "log", "domain": [4.4117, 5.2542]}, "axis": null},
        "text": {"field": "iv"}
      }
    },
    {
      "data": {"name": "tags"},
      "transform": [{"filter": "datum.kind == 'Sell'"}],
      "mark": {"type": "point", "filled": true, "opacity": 1, "size": 484, "color": "#2962ff", "shape": "M-0.8,0L0.1,-1L1,-1L1,1L0.1,1Z"},
      "encoding": {
        "x": {"datum": 101.16, "type": "quantitative", "scale": {"domain": [-0.4836, 102.2244]}, "axis": null},
        "y": {"field": "p", "type": "quantitative", "scale": {"type": "log", "domain": [4.4117, 5.2542]}, "axis": null}
      }
    },
    {
      "data": {"name": "tags"},
      "transform": [{"filter": "datum.kind == 'Buy'"}],
      "mark": {"type": "point", "filled": true, "opacity": 1, "size": 484, "color": "#b8245e", "shape": "M-0.8,0L0.1,-1L1,-1L1,1L0.1,1Z"},
      "encoding": {
        "x": {"datum": 101.16, "type": "quantitative", "scale": {"domain": [-0.4836, 102.2244]}, "axis": null},
        "y": {"field": "p", "type": "quantitative", "scale": {"type": "log", "domain": [4.4117, 5.2542]}, "axis": null}
      }
    },
    {
      "data": {"name": "tags"},
      "mark": {"type": "bar", "size": 19, "cornerRadius": 2},
      "encoding": {
        "x": {"datum": 102.32, "type": "quantitative", "scale": {"domain": [-0.4836, 102.2244]}, "axis": null},
        "x2": {"datum": 108.03},
        "y": {"field": "p", "type": "quantitative", "scale": {"type": "log", "domain": [4.4117, 5.2542]}, "axis": null},
        "color": {"field": "kind", "type": "nominal", "legend": null,
          "scale": {"domain": ["Prev high", "Sell", "VAH", "POC", "Prev close", "Buy", "VAL", "Last"],
                    "range": ["#5d606b", "#2962ff", "#4caf50", "#ef5a0b", "#5d606b", "#5d606b", "#4caf50", "#00bcd4"]}}
      }
    },
    {
      "data": {"name": "tags"},
      "mark": {"type": "text", "align": "left", "baseline": "middle", "fontSize": 13, "fontWeight": 500},
      "encoding": {
        "x": {"datum": 103.19, "type": "quantitative", "scale": {"domain": [-0.4836, 102.2244]}, "axis": null},
        "y": {"field": "p", "type": "quantitative", "scale": {"type": "log", "domain": [4.4117, 5.2542]}, "axis": null},
        "text": {"field": "p", "type": "quantitative", "format": ".4f"},
        "fill": {"field": "kind", "type": "nominal", "legend": null,
          "scale": {"domain": ["Prev high", "Sell", "VAH", "POC", "Prev close", "Buy", "VAL", "Last"],
                    "range": ["#ffffff", "#ffffff", "#131722", "#ffffff", "#ffffff", "#ffffff", "#131722", "#131722"]}}
      }
    }
  ]
}
